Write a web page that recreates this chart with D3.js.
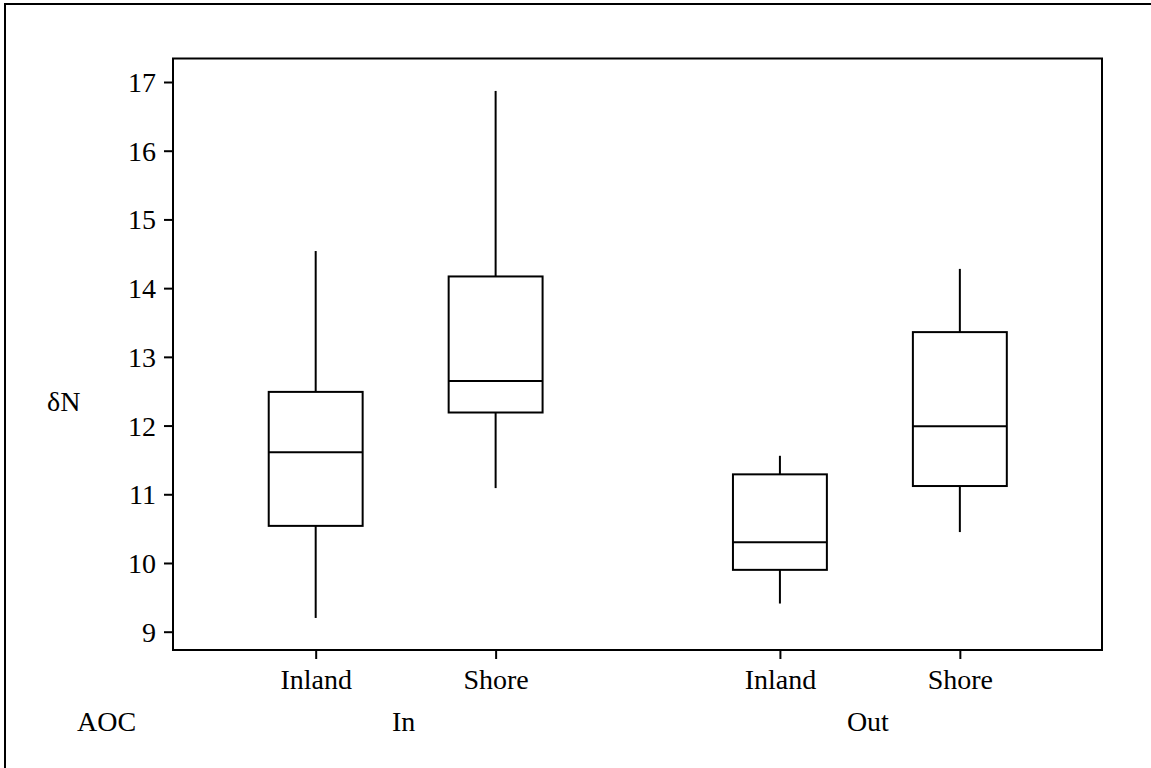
<!DOCTYPE html>
<html>
<head>
<meta charset="utf-8">
<script src="https://cdn.jsdelivr.net/npm/d3@7"></script>
<style>
  html, body { margin: 0; padding: 0; background: #fff; }
  svg { display: block; }
  text { font-family: "Liberation Serif", "Times New Roman", serif; fill: #000; }
</style>
</head>
<body>
<svg id="chart" width="1151" height="768"></svg>
<script>
// ---- data ----
const groups = ["In", "Out"];
const locations = ["Inland", "Shore", "Inland", "Shore"];
const groupOf = ["In", "In", "Out", "Out"];
const positions = [1, 2, 3.58, 4.58];
const whiskerLow = [9.20, 11.09, 9.41, 10.45];
const q1 = [10.54, 12.19, 9.90, 11.12];
const median = [11.61, 12.65, 10.30, 11.99];
const q3 = [12.49, 14.17, 11.29, 13.36];
const whiskerHigh = [14.54, 16.87, 11.56, 14.28];
const yTicks = [9, 10, 11, 12, 13, 14, 15, 16, 17];
const yLabel = "δN";
const factorLabel = "AOC";

const svg = d3.select("#chart");
const W = 1151, H = 768;

// outer frame
svg.append("rect")
  .attr("x", 5).attr("y", 4)
  .attr("width", W + 10).attr("height", H + 10)
  .attr("fill", "none").attr("stroke", "#000").attr("stroke-width", 2);

const plot = { left: 173, top: 58.5, right: 1102, bottom: 650 };

const x = d3.scaleLinear().domain([0.207, 5.37]).range([plot.left, plot.right]);
const y = d3.scaleLinear().domain([9, 17]).range([631.7, 82]);

const fontSize = 28;

// plot frame
svg.append("rect")
  .attr("x", plot.left).attr("y", plot.top)
  .attr("width", plot.right - plot.left).attr("height", plot.bottom - plot.top)
  .attr("fill", "none").attr("stroke", "#000").attr("stroke-width", 2);

// y axis
const yAxis = d3.axisLeft(y).tickValues(yTicks).tickSize(9).tickPadding(8).tickFormat(d3.format("d"));
const gy = svg.append("g").attr("transform", `translate(${plot.left},0)`).call(yAxis);
gy.select(".domain").remove();
gy.selectAll("line").attr("stroke", "#000").attr("stroke-width", 2);
gy.selectAll("text").attr("font-size", fontSize).attr("font-family", "Liberation Serif, serif").attr("dy", "0.34em");

// x axis
const xAxis = d3.axisBottom(x).tickValues(positions).tickSize(9).tickPadding(10)
  .tickFormat((d, i) => locations[i]);
const gx = svg.append("g").attr("transform", `translate(0,${plot.bottom})`).call(xAxis);
gx.select(".domain").remove();
gx.selectAll("line").attr("stroke", "#000").attr("stroke-width", 2);
gx.selectAll("text").attr("font-size", fontSize).attr("font-family", "Liberation Serif, serif")
  .attr("y", 39).attr("dy", 0);

// group labels
groups.forEach(g => {
  const ps = positions.filter((p, i) => groupOf[i] === g);
  svg.append("text")
    .attr("x", x(d3.mean(ps)) - 2).attr("y", 731)
    .attr("text-anchor", "middle").attr("font-size", fontSize)
    .text(g);
});
svg.append("text").attr("x", 77).attr("y", 731).attr("font-size", fontSize).text(factorLabel);

// y label
svg.append("text").attr("x", 47).attr("y", 411).attr("font-size", fontSize).text(yLabel);

// boxes
const boxW = x(0.522) - x(0);
const idx = d3.range(positions.length);
const gb = svg.append("g").attr("stroke", "#000").attr("stroke-width", 2).attr("fill", "none");
idx.forEach(i => {
  const cx = x(positions[i]);
  gb.append("line").attr("x1", cx).attr("x2", cx).attr("y1", y(whiskerHigh[i])).attr("y2", y(q3[i]));
  gb.append("line").attr("x1", cx).attr("x2", cx).attr("y1", y(q1[i])).attr("y2", y(whiskerLow[i]));
  gb.append("rect").attr("x", cx - boxW / 2).attr("width", boxW)
    .attr("y", y(q3[i])).attr("height", y(q1[i]) - y(q3[i])).attr("fill", "#fff");
  gb.append("line").attr("x1", cx - boxW / 2).attr("x2", cx + boxW / 2)
    .attr("y1", y(median[i])).attr("y2", y(median[i]));
});
</script>
</body>
</html>
